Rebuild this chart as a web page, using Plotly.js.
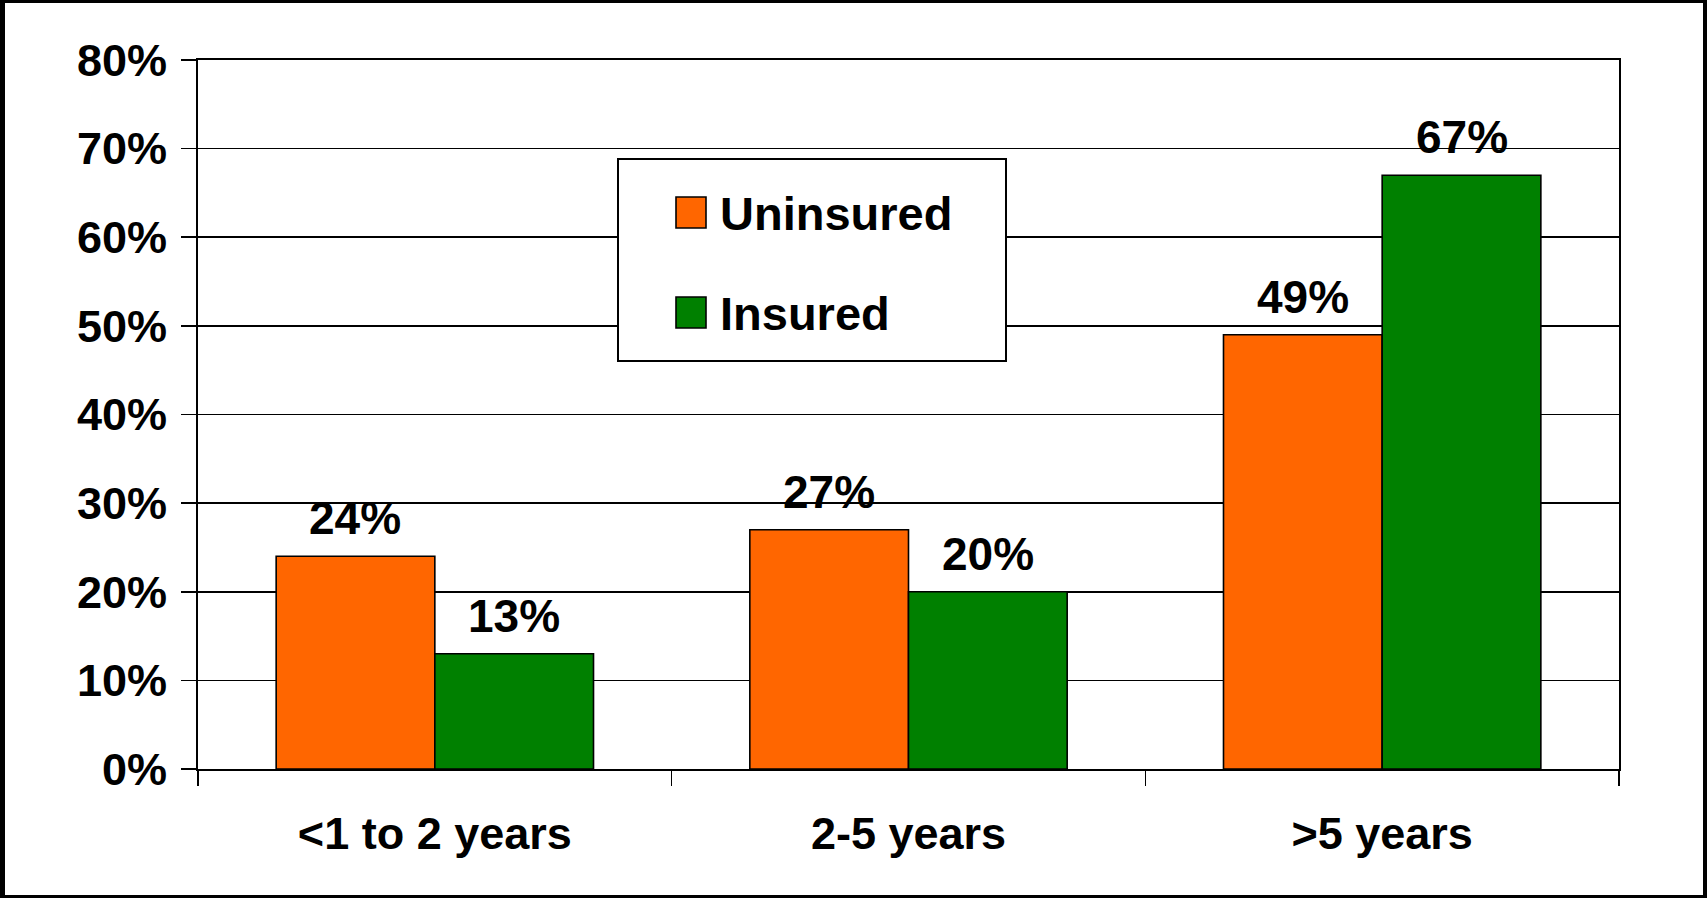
<!DOCTYPE html>
<html>
<head>
<meta charset="utf-8">
<script src="https://cdn.plot.ly/plotly-3.0.1.min.js"></script>
<style>
  html, body { margin: 0; padding: 0; background: #fff; }
  #wrap { position: relative; width: 1707px; height: 898px; }
  #chart { position: absolute; left: 0; top: 0; width: 1707px; height: 898px; }
  #frame {
    position: absolute; left: 0; top: 0; width: 1707px; height: 898px;
    box-sizing: border-box; pointer-events: none;
    border-style: solid; border-color: #000;
    border-width: 3px 4px 3px 5px;
  }
</style>
</head>
<body>
<div id="wrap">
  <div id="chart"></div>
  <div id="frame"></div>
</div>
<script>
// Length of time without coverage, share of respondents (%)
const categories = ['<1 to 2 years', '2-5 years', '>5 years'];
const seriesNames = ['Uninsured', 'Insured'];
const uninsured = [24, 27, 49];
const insured = [13, 20, 67];
const yTickValues = [0, 10, 20, 30, 40, 50, 60, 70, 80];
const yTickLabels = ['0%', '10%', '20%', '30%', '40%', '50%', '60%', '70%', '80%'];
const seriesColors = ['#FF6600', '#008000'];

const W = 1707, H = 898;
const M = { l: 198, r: 88, t: 60, b: 129 };
const plotW = W - M.l - M.r;
const plotH = H - M.t - M.b;
const BARGAP = 0.33;
const FONT = '"Liberation Sans", Arial, Helvetica, sans-serif';

// pixel position -> paper fraction of the plot area
const px = x => (x - M.l) / plotW;
const py = y => (H - M.b - y) / plotH;

const seriesValues = [uninsured, insured];

const traces = seriesValues.map((vals, i) => ({
  type: 'bar',
  name: seriesNames[i],
  x: categories,
  y: vals,
  marker: { color: seriesColors[i], line: { color: '#000', width: 1.6 } },
  hoverinfo: 'x+y+name',
  showlegend: false
}));

// value labels above each bar, placed at the grouped-bar centres
const barW = (1 - BARGAP) / 2;
const annotations = [];
seriesValues.forEach((vals, s) => {
  const off = (s - 0.5) * barW;
  vals.forEach((v, c) => {
    annotations.push({
      x: c + off, y: v, xref: 'x', yref: 'y',
      text: v + '%', showarrow: false,
      xanchor: 'center', yanchor: 'bottom', yshift: 10,
      font: { family: FONT, size: 46, color: '#000', weight: 'bold' }
    });
  });
});

// legend box drawn with shapes so the swatches can be large
const shapes = [{
  type: 'rect', xref: 'paper', yref: 'paper',
  x0: px(618), x1: px(1006), y0: py(361), y1: py(159),
  fillcolor: '#fff', line: { color: '#000', width: 2 }, layer: 'above'
}];
const legendRows = [212.5, 312.5];
seriesNames.forEach((name, i) => {
  const cy = legendRows[i];
  shapes.push({
    type: 'rect', xref: 'paper', yref: 'paper',
    x0: px(676), x1: px(706), y0: py(cy + 15.5), y1: py(cy - 15.5),
    fillcolor: seriesColors[i], line: { color: '#000', width: 1.6 }, layer: 'above'
  });
  annotations.push({
    x: px(718), y: py(cy + 1), xref: 'paper', yref: 'paper',
    text: name, showarrow: false, xanchor: 'left', yanchor: 'middle',
    font: { family: FONT, size: 47, color: '#000', weight: 'bold' }
  });
});

const layout = {
  width: W, height: H,
  margin: M,
  paper_bgcolor: '#fff', plot_bgcolor: '#fff',
  barmode: 'group', bargap: BARGAP, bargroupgap: 0,
  showlegend: false,
  font: { family: FONT, size: 45, color: '#000', weight: 'bold' },
  xaxis: {
    type: 'category',
    showgrid: false, zeroline: false,
    showline: true, linecolor: '#000', linewidth: 2, mirror: true,
    ticks: 'outside', tickson: 'boundaries', ticklen: 15, tickwidth: 1.6, tickcolor: '#000',
    ticklabelstandoff: 24,
    tickfont: { family: FONT, size: 45, color: '#000', weight: 'bold' }
  },
  yaxis: {
    range: [0, 80], tickmode: 'array', tickvals: yTickValues, ticktext: yTickLabels,
    showgrid: true, gridcolor: '#000', gridwidth: 1.6, zeroline: false,
    showline: true, linecolor: '#000', linewidth: 2, mirror: true,
    ticks: 'outside', ticklen: 15, tickwidth: 1.6, tickcolor: '#000',
    ticklabelstandoff: 5,
    tickfont: { family: FONT, size: 45, color: '#000', weight: 'bold' }
  },
  annotations: annotations,
  shapes: shapes
};

Plotly.newPlot('chart', traces, layout, { displayModeBar: false, staticPlot: true });
</script>
</body>
</html>
